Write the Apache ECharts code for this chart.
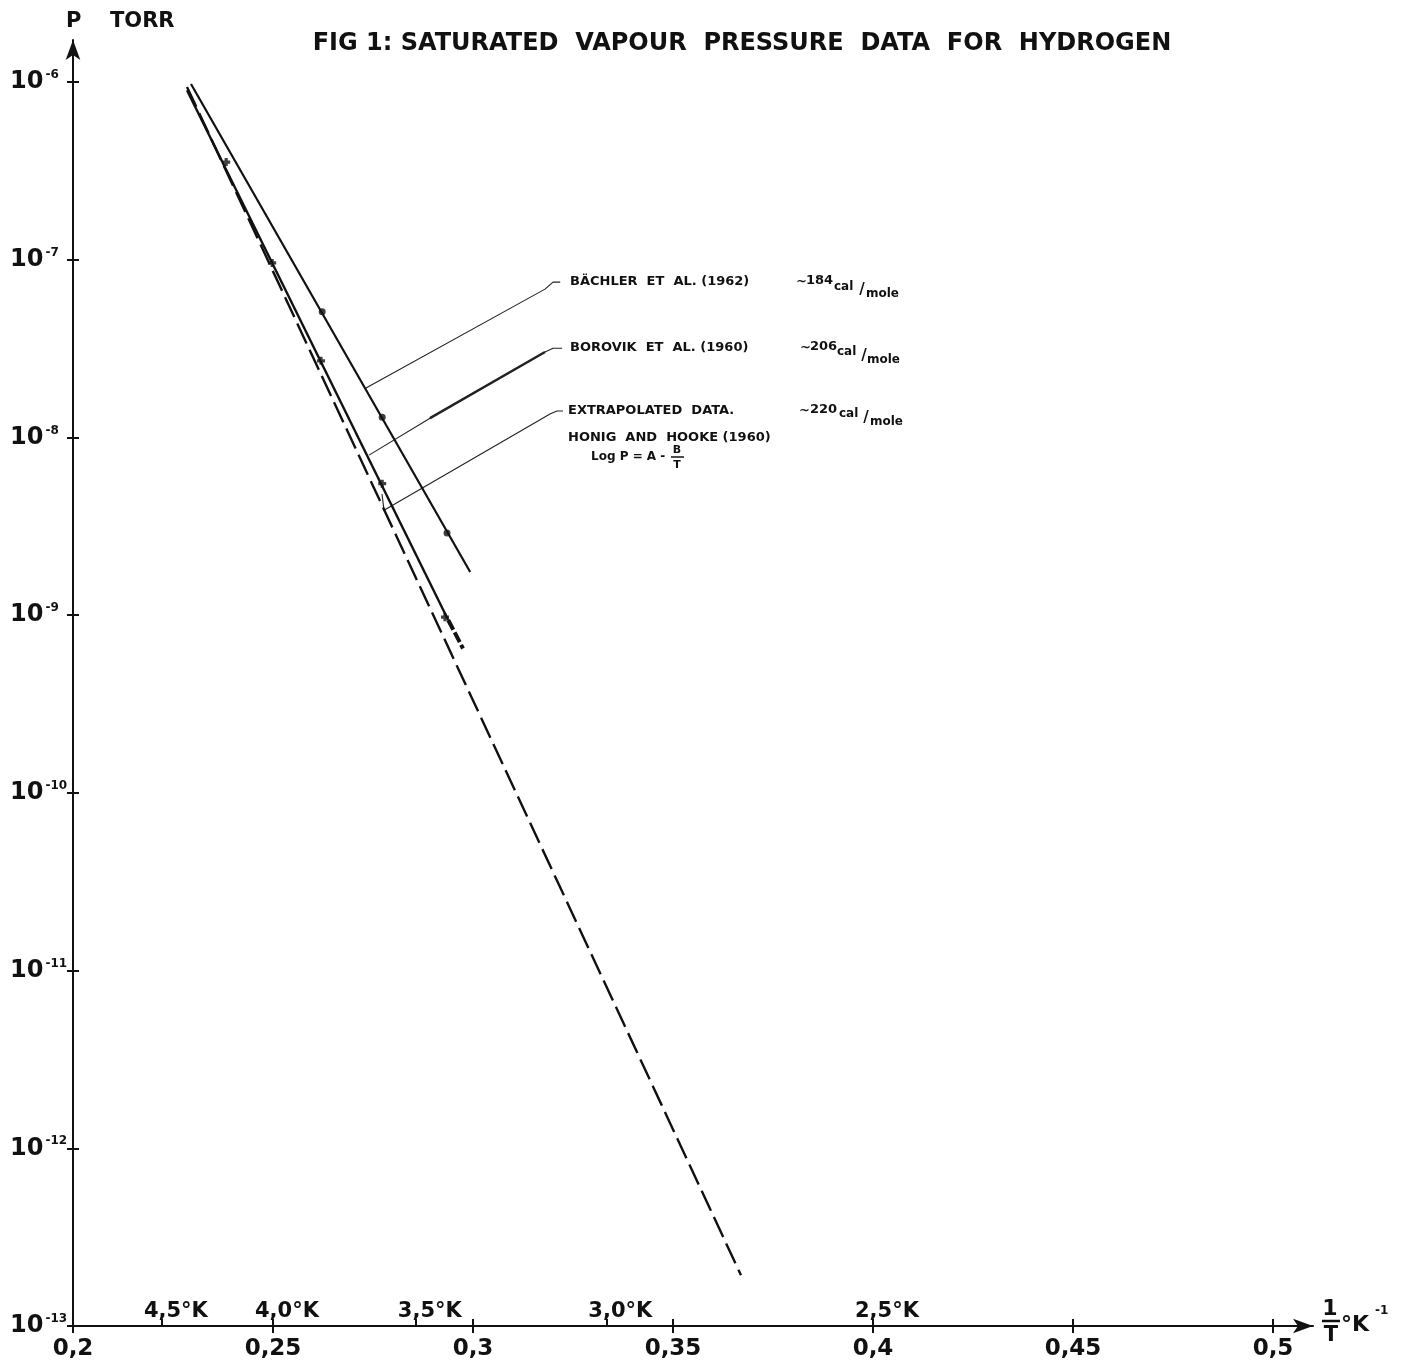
<!DOCTYPE html>
<html>
<head>
<meta charset="utf-8">
<title>Fig 1: Saturated vapour pressure data for hydrogen</title>
<script src="https://cdn.jsdelivr.net/npm/echarts@6/dist/echarts.min.js"></script>
<style>
  html, body { margin: 0; padding: 0; background: #fff; }
  #chart { width: 1401px; height: 1365px; }
</style>
</head>
<body>
<div id="chart"></div>
<script>
  // 1/T axis (°K^-1)
  var xTicks = [0.2, 0.25, 0.3, 0.35, 0.4, 0.45, 0.5];
  var xTickLabels = ['0,2', '0,25', '0,3', '0,35', '0,4', '0,45', '0,5'];
  // temperatures marked on the same axis
  var kelvinTicks = [1 / 4.5, 1 / 4.0, 1 / 3.5, 1 / 3.0, 1 / 2.5];
  var kelvinLabels = ['4,5°K', '4,0°K', '3,5°K', '3,0°K', '2,5°K'];
  // P torr decades
  var yTicks = [1e-13, 1e-12, 1e-11, 1e-10, 1e-9, 1e-8, 1e-7, 1e-6];

  // Bächler et al. (1962)
  var bachlerLine = [[0.2295, 9.75e-7], [0.2993, 1.75e-9]];
  var bachlerPoints = [[0.2623, 5.1e-8], [0.2773, 1.3e-8], [0.2935, 2.9e-9]];
  // Borovik et al. (1960)
  var borovikLine = [[0.2285, 9.0e-7], [0.2938, 9.4e-10]];
  var borovikTail = [[0.2938, 9.4e-10], [0.2975, 6.5e-10]];
  var borovikPoints = [[0.2383, 3.55e-7], [0.2498, 9.6e-8], [0.262, 2.7e-8], [0.2773, 5.5e-9], [0.293, 9.75e-10]];
  // extrapolated, Honig and Hooke (1960)
  var extrapLine = [[0.2285, 9.4e-7], [0.367, 1.93e-13]];

  // leader lines from the notes to the curves
  var bachlerLeader = [[0.27325, 1.9e-8], [0.318, 6.84e-8], [0.32, 7.49e-8], [0.3218, 7.49e-8]];
  var borovikLeader = [[0.274, 7.96e-9], [0.28925, 1.285e-8], [0.318, 3.03e-8], [0.32, 3.18e-8], [0.3223, 3.18e-8]];
  var borovikLeaderBold = [[0.28925, 1.285e-8], [0.318, 3.03e-8]];
  var extrapLeader = [[0.27725, 4.81e-9], [0.27775, 3.9e-9], [0.31925, 1.355e-8], [0.321, 1.41e-8], [0.3225, 1.41e-8]];

  var FONT = '"DejaVu Sans", "Liberation Sans", Arial, sans-serif';
  var INK = '#111';

  function txt(x, y, s, size, align) {
    return {
      type: 'text', x: x, y: y, silent: true,
      style: {
        text: s, font: 'bold ' + size + 'px ' + FONT, fill: INK,
        align: align || 'left', textAlign: align || 'left',
        verticalAlign: 'middle', textVerticalAlign: 'middle'
      }
    };
  }
  function seg(x1, y1, x2, y2, w) {
    return { type: 'line', silent: true, shape: { x1: x1, y1: y1, x2: x2, y2: y2 }, style: { stroke: INK, lineWidth: w || 2 } };
  }
  function leader(data, w) {
    return {
      type: 'line', data: data, symbol: 'none', silent: true, clip: false,
      lineStyle: { color: '#222', width: w }, z: 1
    };
  }

  var chart = echarts.init(document.getElementById('chart'));
  var plus = 'path://M3,0H7V3H10V7H7V10H3V7H0V3H3Z';

  var option = {
    animation: false,
    backgroundColor: '#fff',
    grid: { left: 73, right: 88, top: 40, bottom: 39, containLabel: false, outerBoundsMode: 'none' },
    xAxis: [{
      type: 'value', min: 0.2, max: 0.51, position: 'bottom',
      axisLine: { onZero: false, symbol: ['none', 'arrow'], symbolSize: [11, 20], lineStyle: { color: INK, width: 2 } },
      axisTick: { customValues: xTicks, length: 7, lineStyle: { color: INK, width: 2 } },
      axisLabel: {
        customValues: xTicks, margin: 12, color: INK, fontSize: 23, fontWeight: 'bold', fontFamily: FONT,
        formatter: function (v) { return xTickLabels[xTicks.indexOf(Math.round(v * 100) / 100)] || ''; }
      },
      splitLine: { show: false }
    }, {
      type: 'value', min: 0.2, max: 0.51, position: 'bottom',
      axisLine: { show: false, onZero: false },
      axisTick: { inside: true, customValues: xTicks.concat(kelvinTicks), length: 7, lineStyle: { color: INK, width: 2 } },
      axisLabel: { show: false },
      splitLine: { show: false }
    }],
    yAxis: [{
      type: 'log', logBase: 10, min: 1e-13, max: Math.pow(10, -5.763),
      axisLine: { symbol: ['none', 'arrow'], symbolSize: [11, 20], lineStyle: { color: INK, width: 2 } },
      axisTick: { customValues: yTicks, length: 6, lineStyle: { color: INK, width: 2 } },
      axisLabel: {
        customValues: yTicks, margin: 63, align: 'left', color: INK, fontFamily: FONT,
        formatter: function (v) {
          var e = Math.round(Math.log10(v));
          return '{a|10}{b|' + e + '}';
        },
        rich: {
          a: { fontSize: 24, fontWeight: 'bold', fontFamily: FONT, color: INK },
          b: { fontSize: 12, fontWeight: 'bold', fontFamily: FONT, color: INK, padding: [0, 0, 14, 2] }
        }
      },
      splitLine: { show: false }, minorTick: { show: false }
    }, {
      type: 'log', logBase: 10, min: 1e-13, max: Math.pow(10, -5.763), position: 'left',
      axisLine: { show: false },
      axisTick: { inside: true, customValues: yTicks, length: 6, lineStyle: { color: INK, width: 2 } },
      axisLabel: { show: false },
      splitLine: { show: false }
    }],
    series: [
      {
        name: 'Bächler et al. (1962)', type: 'line', data: bachlerLine, symbol: 'none',
        lineStyle: { color: INK, width: 2.2 }, z: 3
      },
      {
        type: 'scatter', data: bachlerPoints, symbol: 'circle', symbolSize: 7,
        itemStyle: { color: INK }, z: 4
      },
      {
        name: 'Borovik et al. (1960)', type: 'line', data: borovikLine, symbol: 'none',
        lineStyle: { color: INK, width: 2.4 }, z: 3
      },
      {
        type: 'line', data: borovikTail, symbol: 'none',
        lineStyle: { color: INK, width: 4, type: [11, 3] }, z: 3
      },
      {
        type: 'scatter', data: borovikPoints, symbol: plus, symbolSize: 8,
        itemStyle: { color: INK }, z: 4
      },
      {
        name: 'Extrapolated data, Honig and Hooke (1960)', type: 'line', data: extrapLine, symbol: 'none',
        lineStyle: { color: INK, width: 2.4, type: [22, 7] }, z: 3
      },
      leader(bachlerLeader, 1.1),
      leader(borovikLeader, 1.1),
      leader(borovikLeaderBold, 2.4),
      leader(extrapLeader, 1.1),
      {
        type: 'scatter', symbol: 'circle', symbolSize: 0, clip: false, silent: true,
        data: kelvinTicks.map(function (k) { return [k, 1e-13]; }),
        itemStyle: { color: INK, opacity: 1 },
        label: {
          show: true, position: 'top', distance: 4, offset: [14, 0], opacity: 1,
          color: INK, fontSize: 21, fontWeight: 'bold', fontFamily: FONT,
          formatter: function (p) { return kelvinLabels[p.dataIndex]; }
        },
        z: 5
      }
    ],
    graphic: [
      txt(742, 44, 'FIG 1: SATURATED  VAPOUR  PRESSURE  DATA  FOR  HYDROGEN', 24, 'center'),
      txt(66, 22, 'P', 21),
      txt(110, 22, 'TORR', 21),

      txt(570, 282, 'BÄCHLER  ET  AL. (1962)', 13),
      txt(796, 282, '~', 13),
      txt(806, 281, '184', 13),
      txt(834, 287, 'cal', 12),
      txt(862, 290, '/', 15, 'center'),
      txt(866, 294, 'mole', 12),

      txt(570, 348, 'BOROVIK  ET  AL. (1960)', 13),
      txt(800, 348, '~', 13),
      txt(810, 347, '206', 13),
      txt(837, 352, 'cal', 12),
      txt(864, 356, '/', 15, 'center'),
      txt(867, 360, 'mole', 12),

      txt(568, 411, 'EXTRAPOLATED  DATA.', 13),
      txt(799, 411, '~', 13),
      txt(810, 410, '220', 13),
      txt(839, 414, 'cal', 12),
      txt(866, 418, '/', 15, 'center'),
      txt(870, 422, 'mole', 12),
      txt(568, 438, 'HONIG  AND  HOOKE (1960)', 13),
      txt(591, 457, 'Log P = A -', 12),
      txt(677, 450, 'B', 11, 'center'),
      seg(671, 457, 684, 457, 1.5),
      txt(677, 465, 'T', 11, 'center'),

      txt(1330, 1309, '1', 22, 'center'),
      seg(1322, 1321, 1340, 1321, 2.5),
      txt(1331, 1336, 'T', 21, 'center'),
      txt(1341, 1325, '°K', 22),
      txt(1375, 1311, '-1', 12)
    ]
  };

  chart.setOption(option);
</script>
</body>
</html>
